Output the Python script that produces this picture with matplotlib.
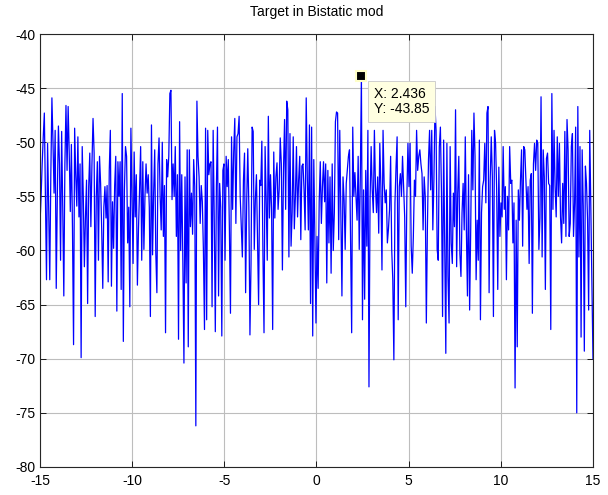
import matplotlib
matplotlib.use("Agg")
import matplotlib.pyplot as plt
import numpy as np

plt.rcParams['font.family'] = ['Liberation Sans', 'DejaVu Sans']
plt.rcParams['axes.unicode_minus'] = False

# signal, 512 samples over [-15, 15]
seg1 = [-57.5, -55, -52, -49.5, -47.3, -55, -62.7, -50.1, -56, -62.7, -53, -45.9, -50, -54.7, -48.9,
        -63.5, -55, -48.5, -52, -60.9, -49, -56, -64.2, -52, -46.6, -52.6, -46.7, -51, -56.4, -50.2,
        -58, -68.7, -48.7, -53, -55.9, -49.5, -56.9, -52, -69.9, -50.4, -55, -61.5, -57, -53.5, -64.9]
seg2 = [-54.1, -51, -57.8, -52, -47.8, -51, -66.1, -55, -51.8, -60.9, -51.3, -53.8, -58, -63.5, -56,
        -54.1, -57, -54, -62.9, -52.6, -48.9, -63.3, -55.5, -59.8, -54, -51.3, -65.6, -51.8, -55, -51.8,
        -63.6, -45.5, -68.4, -54.4, -50.4, -51.3, -59.3, -56, -65.2, -48.7, -55, -61.2, -50.9, -56.9, -53,
        -63.2]
seg3 = [-58, -54.4, -50.4, -60.9, -51.8, -59.9, -55, -52, -54.7, -53, -56, -66.1, -48.4, -60.4, -54.7,
        -50.7, -60.2, -63.9, -52, -49.6, -55, -58.1, -50, -58.7, -54, -67.6, -51.6, -53.2, -51.3, -45.5,
        -45.2, -55.3, -52, -55, -50.4, -58.7, -53, -68.2, -48.1, -60, -53, -61, -70.4, -53.2, -63,
        -50.7]
seg4 = [-68.9, -50.7, -57.8, -54.7, -58.5, -51.6, -54.1, -76.2, -46.2, -51.3, -53.2, -57.5, -54, -55.5, -60,
        -67.3, -48.7, -66.4, -48.9, -53, -52, -51.8, -65.2, -48.9, -56.9, -67.5, -54.1, -48.6, -64.2, -53.8,
        -56, -67.9, -52.6, -52, -60.9, -51.3, -54.1, -51.6, -58, -65.8, -49.5, -56.2, -50.9, -47.8, -57.5,
        -49.5]
seg5 = [-49.2, -47.6, -55, -57.8, -60.6, -53.5, -51, -63.9, -55.5, -50.6, -56, -67.8, -61.2, -48.6, -49,
        -59.9, -55.3, -53, -58.9, -65, -53.5, -54, -49.9, -60.3, -67.6, -50.4, -55.3, -60.9, -47.6, -57,
        -53, -56.2, -67.3, -50.9, -57, -53.2, -51.9, -56.2, -54.4, -49.6, -52, -61.8, -52.6, -47.9, -56.2,
        -46.2]
seg6 = [-47, -60.6, -49.2, -59.6, -56.5, -49.5, -58, -55, -50.4, -56.9, -53.5, -51.3, -59, -52.2, -52,
        -54.4, -58.1, -45.9, -53.2, -58.1, -48.4, -64.9, -48.6, -67.9, -51.6, -58.7, -66.7, -58.7, -63.5, -55.5,
        -51.8, -57.5, -54.1, -51.8, -55.5, -52, -63, -52.6, -59.3, -53.2, -62.1, -52, -60, -56.5, -48.1,
        -47.2]
seg7 = [-47.3, -59, -48.9, -56.5, -64.2, -53.2, -55.3, -59.9, -53.8, -52.6, -51.3, -50.7, -59, -67.6, -48.6,
        -55, -52.8, -55, -57.2, -51.3, -59.9, -53.2, -43.85, -66.4, -54.4, -64.5, -52.6, -59.6, -48.9, -72.6,
        -55.3, -50.4, -54.4, -56.5, -48.9, -54.1, -56.5, -53.2, -58.4, -50.1, -54.1, -61.8, -48.9, -53.8, -55.6,
        -54.4, -59.3]
seg8 = [-58, -56.2, -51.3, -59.9, -62.7, -70.1, -55.6, -52.3, -49.5, -66.4, -54.1, -52.9, -55, -51.3, -54.1,
        -56.9, -65.2, -55, -50.1, -54.1, -50.1, -59.6, -62.1, -58.7, -53.5, -55, -48.9, -52.6, -51.3, -50.7,
        -52, -52.9, -58.1, -53.2, -55, -66.7, -57.8, -51.6, -48.9, -54.4, -48.9, -58.1, -53.5, -46.7, -48.9,
        -59.9]
seg9 = [-60.9, -50.4, -48.6, -54.7, -66.1, -49.8, -59.3, -69.5, -50.1, -62.4, -66.7, -50.4, -59.3, -61.2, -54.7,
        -57.8, -47, -61.5, -54.7, -51.3, -60.3, -62.4, -56.5, -53.8, -58.1, -49.5, -58.1, -64.2, -53, -65.5,
        -58.1, -48.9, -54.4, -47.3, -51.3, -62.7, -57.2, -60.9, -49.8, -66.4, -56.5, -54.1, -53.5, -50.1, -55.6,
        -47.3]
seg10 = [-46.7, -63.9, -53.5, -49.5, -53.2, -66.1, -48.9, -50.1, -54.4, -63.6, -52.3, -58.7, -55.6, -56.9, -50.4,
         -56.2, -54.1, -62.7, -55, -58.1, -50.4, -53.8, -53.5, -59.3, -55.6, -72.7, -57.2, -68.9, -54.4, -57.2,
         -53.5, -50.7, -59.6, -50.4, -50.7, -53.5, -56.2, -54.1, -61.2, -53.5, -52.9, -65.8, -52, -50.1, -52.6,
         -49.8]
seg11 = [-50.1, -59.9, -57, -45.8, -60.6, -50.7, -53.2, -63.6, -51.5, -51, -53.8, -54, -67.3, -45.5, -56.2,
         -48.9, -54.1, -56.9, -49.5, -55, -50.1, -56.9, -59.3, -53.8, -57.5, -49, -58.7, -47.9, -50.7, -58.7,
         -57.5, -50.4, -49.2, -58.7, -55.6, -48.6, -75, -46.7, -60.6, -50.4, -68, -50.7, -55.9, -69.3, -52.2,
         -53.8, -57.2, -65.5, -48.9, -56.2, -63, -70]

y = np.array(seg1 + seg2 + seg3 + seg4 + seg5 + seg6 + seg7 + seg8 + seg9 + seg10 + seg11)
x = np.linspace(-15, 15, len(y))

tip_x, tip_y = 2.436, -43.85

fig = plt.figure(figsize=(6.08, 4.95), dpi=100)
ax = fig.add_axes([0.0658, 0.0566, 0.9095, 0.8747])

ax.plot(x, y, color='#0000ff', linewidth=0.9)

ax.set_xlim(-15, 15)
ax.set_ylim(-80, -40)
ax.set_xticks(np.arange(-15, 16, 5))
ax.set_yticks(np.arange(-80, -39, 5))
ax.grid(True, color='#bdbdbd', linestyle='-', linewidth=0.8)
ax.set_axisbelow(True)
ax.tick_params(direction='in', top=True, right=True, labelsize=10, length=4, width=0.6, colors='black')
ax.tick_params(axis='x', pad=5)
for s in ax.spines.values():
    s.set_linewidth(0.8)
    s.set_color('#262626')

ax.set_title("Target in Bistatic mod", fontsize=10, pad=13)

# data tip
ax.plot([tip_x], [tip_y], marker='s', markersize=7, color='black',
        markeredgecolor='#ffffc8', markeredgewidth=1.5, zorder=5)
ax.annotate("X: 2.436\nY: -43.85", xy=(tip_x, tip_y), xytext=(9, -8),
            textcoords='offset points', ha='left', va='top', fontsize=10,
            linespacing=1.15,
            bbox=dict(boxstyle='square,pad=0.4', fc='#ffffe1', ec='#c8c8c8', lw=0.6),
            zorder=6)

fig.savefig("out.png", dpi=100)
